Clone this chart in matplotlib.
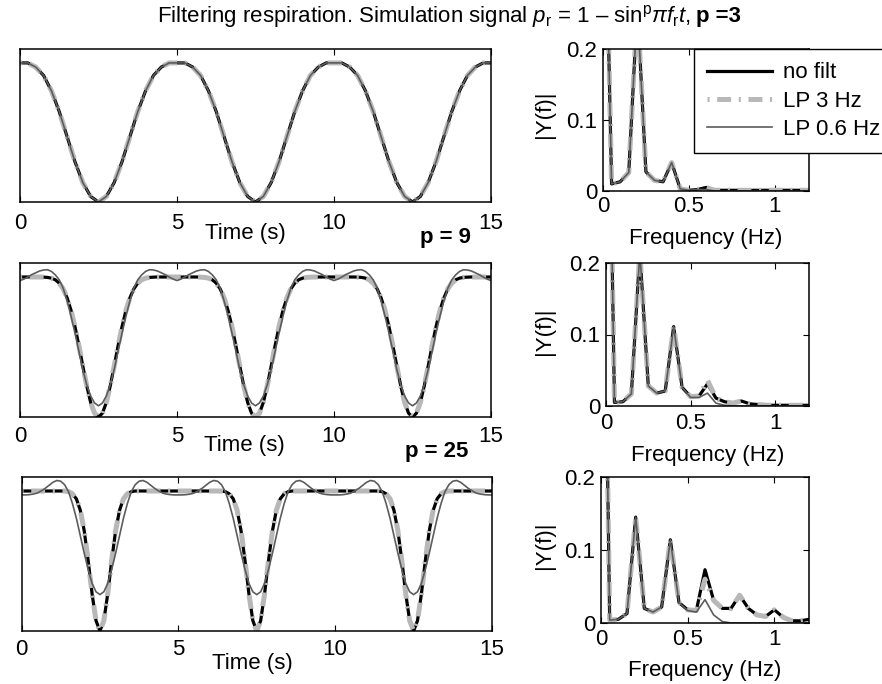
import numpy as np
import matplotlib
matplotlib.use('Agg')
import matplotlib.pyplot as plt

plt.rcParams['font.family'] = ['Liberation Sans', 'DejaVu Sans']
plt.rcParams['mathtext.fontset'] = 'custom'
plt.rcParams['mathtext.rm'] = 'Liberation Sans'
plt.rcParams['mathtext.it'] = 'Liberation Sans:italic'
plt.rcParams['mathtext.bf'] = 'Liberation Sans:bold'
plt.rcParams['lines.scale_dashes'] = False
plt.rcParams['font.size'] = 16

# sample times (s): p = 3 every 0.25 s, p = 9 / 25 every 0.125 s
t_a = np.linspace(0, 15, 61)
t_b = np.linspace(0, 15, 121)

# p = 3 (the low-pass versions lie on top of the raw signal)
raw_p3 = [1.00, 1.00, 0.97, 0.91, 0.80, 0.65, 0.47, 0.29, 0.14, 0.04, 0.00, 0.04, 0.14, 0.29, 0.47, 0.65, 0.80, 0.91, 0.97, 1.00,
          1.00, 1.00, 0.97, 0.91, 0.80, 0.65, 0.47, 0.29, 0.14, 0.04, 0.00, 0.04, 0.14, 0.29, 0.47, 0.65, 0.80, 0.91, 0.97, 1.00,
          1.00, 1.00, 0.97, 0.91, 0.80, 0.65, 0.47, 0.29, 0.14, 0.04, 0.00, 0.04, 0.14, 0.29, 0.47, 0.65, 0.80, 0.91, 0.97, 1.00,
          1.00]
lp3_p3 = raw_p3
lp06_p3 = raw_p3

# p = 9
raw_p9 = [1, 1, 1, 1, 1, 1, 0.999, 0.997, 0.992, 0.98, 0.956, 0.915, 0.851, 0.762, 0.646, 0.51, 0.364, 0.223, 0.104, 0.027,
          0, 0.027, 0.104, 0.223, 0.364, 0.51, 0.646, 0.762, 0.851, 0.915, 0.956, 0.98, 0.992, 0.997, 0.999, 1, 1, 1, 1, 1,
          1, 1, 1, 1, 1, 1, 0.999, 0.997, 0.992, 0.98, 0.956, 0.915, 0.851, 0.762, 0.646, 0.51, 0.364, 0.223, 0.104, 0.027,
          0, 0.027, 0.104, 0.223, 0.364, 0.51, 0.646, 0.762, 0.851, 0.915, 0.956, 0.98, 0.992, 0.997, 0.999, 1, 1, 1, 1, 1,
          1, 1, 1, 1, 1, 1, 0.999, 0.997, 0.992, 0.98, 0.956, 0.915, 0.851, 0.762, 0.646, 0.51, 0.364, 0.223, 0.104, 0.027,
          0, 0.027, 0.104, 0.223, 0.364, 0.51, 0.646, 0.762, 0.851, 0.915, 0.956, 0.98, 0.992, 0.997, 0.999, 1, 1, 1, 1, 1,
          1]
lp3_p9 = raw_p9
lp06_p9 = [0.975, 0.985, 1.0, 1.017, 1.03, 1.043, 1.05, 1.052, 1.04, 1.015, 0.98, 0.92, 0.83, 0.72, 0.60, 0.47, 0.34, 0.23, 0.15, 0.10,
           0.08, 0.10, 0.15, 0.23, 0.34, 0.47, 0.60, 0.72, 0.83, 0.92, 0.98, 1.015, 1.04, 1.052, 1.05, 1.043, 1.03, 1.017, 1.0, 0.985,
           0.975, 0.985, 1.0, 1.017, 1.03, 1.043, 1.05, 1.052, 1.04, 1.015, 0.98, 0.92, 0.83, 0.72, 0.60, 0.47, 0.34, 0.23, 0.15, 0.10,
           0.08, 0.10, 0.15, 0.23, 0.34, 0.47, 0.60, 0.72, 0.83, 0.92, 0.98, 1.015, 1.04, 1.052, 1.05, 1.043, 1.03, 1.017, 1.0, 0.985,
           0.975, 0.985, 1.0, 1.017, 1.03, 1.043, 1.05, 1.052, 1.04, 1.015, 0.98, 0.92, 0.83, 0.72, 0.60, 0.47, 0.34, 0.23, 0.15, 0.10,
           0.08, 0.10, 0.15, 0.23, 0.34, 0.47, 0.60, 0.72, 0.83, 0.92, 0.98, 1.015, 1.04, 1.052, 1.05, 1.043, 1.03, 1.017, 1.0, 0.985,
           0.975]

# p = 25
raw_p25 = [1, 1, 1, 1, 1, 1, 1, 1, 1, 1, 1, 1, 0.995, 0.98, 0.944, 0.862, 0.715, 0.504, 0.266, 0.074,
           0, 0.074, 0.266, 0.504, 0.715, 0.862, 0.944, 0.98, 0.995, 1, 1, 1, 1, 1, 1, 1, 1, 1, 1, 1,
           1, 1, 1, 1, 1, 1, 1, 1, 1, 1, 1, 1, 0.995, 0.98, 0.944, 0.862, 0.715, 0.504, 0.266, 0.074,
           0, 0.074, 0.266, 0.504, 0.715, 0.862, 0.944, 0.98, 0.995, 1, 1, 1, 1, 1, 1, 1, 1, 1, 1, 1,
           1, 1, 1, 1, 1, 1, 1, 1, 1, 1, 1, 1, 0.995, 0.98, 0.944, 0.862, 0.715, 0.504, 0.266, 0.074,
           0, 0.074, 0.266, 0.504, 0.715, 0.862, 0.944, 0.98, 0.995, 1, 1, 1, 1, 1, 1, 1, 1, 1, 1, 1,
           1]
lp3_p25 = raw_p25
lp06_p25 = [0.972, 0.972, 0.974, 0.978, 0.985, 1.0, 1.018, 1.04, 1.062, 1.075, 1.07, 1.045, 0.995, 0.91, 0.805, 0.68, 0.555, 0.44, 0.34, 0.28,
            0.26, 0.28, 0.34, 0.44, 0.555, 0.68, 0.805, 0.91, 0.995, 1.045, 1.07, 1.075, 1.062, 1.04, 1.018, 1.0, 0.985, 0.978, 0.974, 0.972,
            0.972, 0.972, 0.974, 0.978, 0.985, 1.0, 1.018, 1.04, 1.062, 1.075, 1.07, 1.045, 0.995, 0.91, 0.805, 0.68, 0.555, 0.44, 0.34, 0.28,
            0.26, 0.28, 0.34, 0.44, 0.555, 0.68, 0.805, 0.91, 0.995, 1.045, 1.07, 1.075, 1.062, 1.04, 1.018, 1.0, 0.985, 0.978, 0.974, 0.972,
            0.972, 0.972, 0.974, 0.978, 0.985, 1.0, 1.018, 1.04, 1.062, 1.075, 1.07, 1.045, 0.995, 0.91, 0.805, 0.68, 0.555, 0.44, 0.34, 0.28,
            0.26, 0.28, 0.34, 0.44, 0.555, 0.68, 0.805, 0.91, 0.995, 1.045, 1.07, 1.075, 1.062, 1.04, 1.018, 1.0, 0.985, 0.978, 0.974, 0.972,
            0.972]

# amplitude spectra, 0 .. 1.2 Hz every 0.05 Hz
freq = np.linspace(0, 1.2, 25)
spec_raw_p3 = [0.58, 0.010, 0.013, 0.026, 0.26, 0.027, 0.015, 0.013, 0.040, 0.003, 0.001, 0.002, 0.005,
               0.001, 0.001, 0.001, 0.001, 0.001, 0.001, 0.001, 0.001, 0.001, 0.001, 0.001, 0.001]
spec_lp3_p3 = spec_raw_p3
spec_lp06_p3 = [0.58, 0.010, 0.013, 0.026, 0.26, 0.027, 0.015, 0.013, 0.040, 0.003, 0.001, 0.002, 0.002,
                0, 0, 0, 0, 0, 0, 0, 0, 0, 0, 0, 0]

spec_raw_p9 = [0.73, 0.005, 0.006, 0.017, 0.215, 0.028, 0.018, 0.021, 0.111, 0.026, 0.013, 0.014, 0.031,
               0.011, 0.006, 0.004, 0.007, 0.003, 0.002, 0.001, 0.001, 0.001, 0.001, 0.001, 0.001]
spec_lp3_p9 = [0.73, 0.005, 0.006, 0.017, 0.215, 0.028, 0.018, 0.021, 0.111, 0.026, 0.013, 0.014, 0.036,
               0.011, 0.006, 0.004, 0.007, 0.003, 0.002, 0.001, 0.001, 0.001, 0.001, 0.001, 0.001]
spec_lp06_p9 = [0.73, 0.005, 0.006, 0.017, 0.215, 0.028, 0.018, 0.021, 0.111, 0.026, 0.012, 0.012, 0.018,
                0.004, 0.001, 0, 0, 0, 0, 0, 0, 0, 0, 0, 0]

spec_raw_p25 = [0.84, 0.004, 0.005, 0.013, 0.145, 0.020, 0.015, 0.022, 0.114, 0.028, 0.018, 0.017, 0.073,
                0.031, 0.020, 0.020, 0.038, 0.020, 0.011, 0.009, 0.018, 0.008, 0.003, 0.003, 0.005]
spec_lp3_p25 = [0.84, 0.004, 0.005, 0.013, 0.145, 0.020, 0.015, 0.022, 0.114, 0.028, 0.018, 0.017, 0.060,
                0.031, 0.020, 0.020, 0.038, 0.020, 0.011, 0.009, 0.018, 0.008, 0.003, 0.003, 0.005]
spec_lp06_p25 = [0.84, 0.004, 0.005, 0.013, 0.145, 0.020, 0.015, 0.022, 0.114, 0.028, 0.017, 0.015, 0.032,
                 0.011, 0.002, 0, 0, 0, 0, 0, 0, 0, 0, 0, 0]

labels = ['no filt', 'LP 3 Hz', 'LP 0.6 Hz']

W, H = 882, 684
fig = plt.figure(figsize=(W / 100, H / 100), dpi=100)


def px_axes(x0, y0, x1, y1):
    return fig.add_axes([x0 / W, 1 - y1 / H, (x1 - x0) / W, (y1 - y0) / H])


def draw_lines(ax, x, raw, lp3, lp06):
    ax.plot(x, raw, color='black', lw=2.3)
    ax.plot(x, lp3, color='#b8b8b8', lw=3.6, ls=(15.5, (10, 5.5, 1.5, 5.5)))
    ax.plot(x, lp06, color='#5c5c5c', lw=1.2)


def style(ax, pad):
    for s in ax.spines.values():
        s.set_linewidth(1.1)
    ax.tick_params(direction='in', length=4, width=0.8, top=True, right=True,
                   pad=pad, labelsize=16)


def time_panel(box, x, raw, lp3, lp06, pad, lab_xy):
    ax = px_axes(*box)
    draw_lines(ax, x, raw, lp3, lp06)
    ax.set_xlim(0, 15)
    ax.set_ylim(0, 1.1)
    ax.set_xticks([0, 5, 10, 15])
    ax.set_yticks([])
    style(ax, pad)
    ax.set_xlabel('Time (s)', fontsize=16)
    ax.xaxis.set_label_coords(*lab_xy)
    return ax


def spec_panel(box, raw, lp3, lp06, pad, xlab_y, ylab_xy):
    ax = px_axes(*box)
    draw_lines(ax, freq, raw, lp3, lp06)
    ax.set_xlim(0, 1.2)
    ax.set_ylim(0, 0.2)
    ax.set_xticks([0, 0.5, 1])
    ax.set_xticklabels(['0', '0.5', '1'])
    ax.set_yticks([0, 0.1, 0.2])
    ax.set_yticklabels(['0', '0.1', '0.2'])
    style(ax, pad)
    ax.tick_params(axis='y', pad=4)
    ax.set_xlabel('Frequency (Hz)', fontsize=16)
    ax.xaxis.set_label_coords(0.5, xlab_y)
    ax.set_ylabel('|Y(f)|', fontsize=16)
    ax.yaxis.set_label_coords(*ylab_xy)
    return ax


time_panel((20, 49, 491, 202), t_a, raw_p3, lp3_p3, lp06_p3, 8, (0.478, -0.14))
time_panel((20, 263, 491, 417), t_b, raw_p9, lp3_p9, lp06_p9, 6.5, (0.476, -0.12))
time_panel((21.5, 477, 492, 631), t_b, raw_p25, lp3_p25, lp06_p25, 6, (0.49, -0.14))

ax_s1 = spec_panel((603, 49, 809, 191), spec_raw_p3, spec_lp3_p3, spec_lp06_p3, 3.6, -0.26, (-0.235, 0.54))
spec_panel((606, 263, 809, 406), spec_raw_p9, spec_lp3_p9, spec_lp06_p9, 5, -0.27, (-0.25, 0.52))
spec_panel((601, 477, 809, 623), spec_raw_p25, spec_lp3_p25, spec_lp06_p25, 4.3, -0.255, (-0.22, 0.53))

leg = ax_s1.legend(labels, loc='upper left', bbox_to_anchor=(694 / W, 1 - 49 / H),
                   bbox_transform=fig.transFigure, fontsize=16, frameon=True,
                   fancybox=False, edgecolor='black', framealpha=1,
                   handlelength=2.9, handletextpad=0.5, borderpad=0.6,
                   labelspacing=0.33, borderaxespad=0)
leg.get_frame().set_linewidth(1.0)

# title: regular part followed by a bold "p =3"
title_y = 1 - 22 / H
t1 = fig.text(0, title_y,
              r'Filtering respiration. Simulation signal $p_{\mathrm{r}}$ = 1 – sin$^{\mathrm{p}}\pi f_{\mathrm{r}}t$,',
              ha='left', va='baseline', fontsize=16)
t2 = fig.text(0, title_y, 'p =3', ha='left', va='baseline', fontsize=16, fontweight='bold')
r = fig.canvas.get_renderer()
w1 = t1.get_window_extent(r).width
w2 = t2.get_window_extent(r).width
gap = 5
x_start = 449 - (w1 + gap + w2) / 2
t1.set_x(x_start / W)
t2.set_x((x_start + w1 + gap) / W)

fig.text(445 / W, 1 - 238 / H, 'p = 9', ha='center', va='center', fontsize=16, fontweight='bold')
fig.text(437 / W, 1 - 451 / H, 'p = 25', ha='center', va='center', fontsize=16, fontweight='bold')

fig.savefig('out.png', dpi=100)
